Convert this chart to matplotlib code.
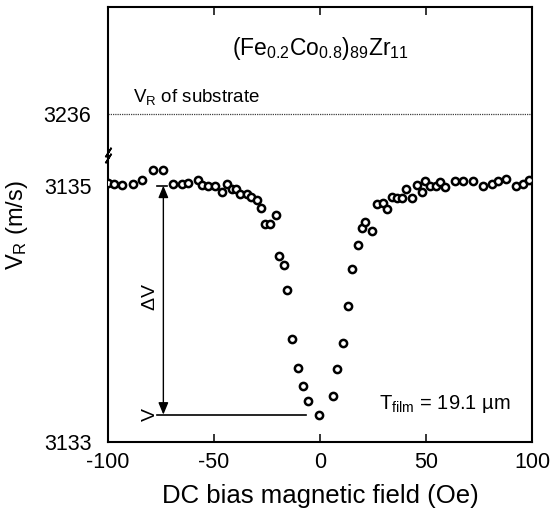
import matplotlib
matplotlib.use("Agg")
import matplotlib.pyplot as plt
import numpy as np
from matplotlib.transforms import ScaledTranslation

plt.rcParams["font.family"] = ["Liberation Sans", "DejaVu Sans"]
plt.rcParams["mathtext.fontset"] = "custom"
plt.rcParams["mathtext.rm"] = "Liberation Sans"
plt.rcParams["mathtext.it"] = "Liberation Sans:italic"
plt.rcParams["mathtext.bf"] = "Liberation Sans:bold"
plt.rcParams["axes.unicode_minus"] = False

# DC bias field (Oe) and Rayleigh wave velocity (m/s)
field = [-100.0, -97.0, -93.3, -88.1, -84.1, -78.9, -73.9, -69.5, -65.3, -62.1,
         -57.7, -55.8, -52.7, -49.5, -46.4, -44.0, -41.7, -39.6, -37.7, -34.6,
         -32.5, -29.8, -27.8, -25.9, -23.6, -20.9, -19.2, -17.0, -15.4, -13.3,
         -10.5, -8.2, -5.8, -0.7, 5.9, 8.1, 10.9, 13.0, 15.3, 18.0,
         19.6, 21.4, 24.3, 26.9, 29.6, 31.4, 33.8, 36.2, 38.5, 40.6,
         43.2, 45.8, 48.0, 49.5, 51.9, 54.5, 56.6, 59.0, 63.7, 67.6,
         72.0, 77.0, 81.0, 84.1, 87.7, 92.5, 95.6, 98.7]
vr = [3135.020, 3135.016, 3135.008, 3135.013, 3135.041, 3135.119, 3135.119, 3135.016,
      3135.016, 3135.021, 3135.047, 3135.008, 3134.995, 3134.995, 3134.951, 3135.010,
      3134.974, 3134.974, 3134.937, 3134.937, 3134.912, 3134.885, 3134.824, 3134.703,
      3134.703, 3134.770, 3134.454, 3134.384, 3134.185, 3133.806, 3133.576, 3133.442,
      3133.322, 3133.216, 3133.364, 3133.572, 3133.773, 3134.064, 3134.352, 3134.537,
      3134.672, 3134.714, 3134.649, 3134.857, 3134.865, 3134.820, 3134.910, 3134.904,
      3134.904, 3134.973, 3134.904, 3135.008, 3134.951, 3135.035, 3134.996, 3134.998,
      3135.029, 3134.987, 3135.039, 3135.039, 3135.039, 3134.995, 3135.016, 3135.039,
      3135.055, 3134.995, 3135.016, 3135.047]

vr_substrate = 3236
vr_plateau = 3135.0
xticks = [-100, -50, 0, 50, 100]
yticks = [3133, 3135, 3236]

# broken y axis: everything between the two values is cut out
GAP_LO, GAP_HI = 3135.24, 3235.68


def fwd(v):
    v = np.asarray(v, dtype=float)
    return np.where(v <= GAP_LO, v,
                    np.where(v >= GAP_HI, v - (GAP_HI - GAP_LO), GAP_LO))


def inv(u):
    u = np.asarray(u, dtype=float)
    return np.where(u <= GAP_LO, u, u + (GAP_HI - GAP_LO))


fig = plt.figure(figsize=(5.52, 5.16), dpi=100)
ax = fig.add_axes([0.1957, 0.1428, 0.7681, 0.8430])
ax.set_yscale("function", functions=(fwd, inv))

ax.plot(field, vr, "o", ms=5.2, mfc="white", mec="black", mew=1.8,
        zorder=3)

# substrate velocity
ax.axhline(vr_substrate, color="0.25", lw=0.9, ls=(0, (1, 0.8)))
ax.text(-88, vr_substrate + 0.05, r"V$_\mathrm{R}$ of substrate",
        fontsize=13.5, va="bottom", ha="left")

# delta V arrow
v_min = min(vr)
x_arr = -73.9
ax.annotate("", xy=(x_arr, v_min), xytext=(x_arr, vr_plateau),
            arrowprops=dict(arrowstyle="<|-|>,head_length=0.6,head_width=0.25",
                            color="black", lw=1.0, mutation_scale=12,
                            shrinkA=0, shrinkB=0))
ax.plot([-76.9, -6.4], [v_min, v_min], color="black", lw=1.2)
ax.plot([-76.9, -72.0], [vr_plateau, vr_plateau], color="black", lw=1.2)
ax.text(-80, 3134.13, r"$\Delta$V", rotation=90, fontsize=14,
        ha="center", va="center")
ax.text(-80, v_min, "V", rotation=90, fontsize=14, ha="center", va="center")

ax.text(0.5, 0.905, r"(Fe$_{0.2}$Co$_{0.8}$)$_{89}$Zr$_{11}$",
        transform=ax.transAxes, fontsize=16.5, ha="center", va="center")
ax.text(28, v_min, r"T$_\mathrm{film}$ = 19.1 µm", fontsize=14.5,
        ha="left", va="bottom")

# break marks on the left spine
for dy in (-2.2, 2.2):
    off = ScaledTranslation(0, dy / 72, fig.dpi_scale_trans)
    ax.plot([-100], [GAP_LO], marker=(2, 2, -32), ms=8, mew=1.2,
            color="black", transform=ax.transData + off, clip_on=False)

ax.set_xlim(-100, 100)
ax.set_ylim(3133, 3236.83)
ax.set_xticks(xticks)
ax.set_yticks(yticks)
ax.set_yticklabels([str(t) for t in yticks])
ax.tick_params(axis="x", direction="in", top=True, length=6, width=1.1,
               labelsize=15.5, pad=7)
ax.tick_params(axis="y", length=0, labelsize=15.5, pad=12)
for sp in ax.spines.values():
    sp.set_linewidth(1.5)

ax.set_xlabel("DC bias magnetic field (Oe)", fontsize=18.5, labelpad=8)
ax.set_ylabel(r"V$_\mathrm{R}$ (m/s)", fontsize=17, labelpad=10)

fig.savefig("out.png", dpi=100)
